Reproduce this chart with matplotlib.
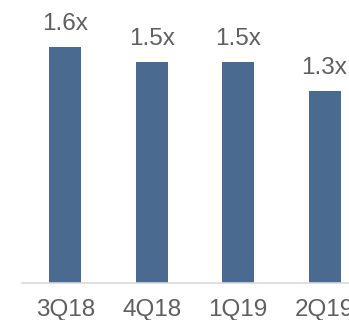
import matplotlib
matplotlib.use("Agg")
import matplotlib.pyplot as plt

quarters = ["3Q18", "4Q18", "1Q19", "2Q19"]
multiples = [1.6, 1.5, 1.5, 1.3]

plt.rcParams['font.family'] = ['Liberation Sans', 'DejaVu Sans']
text_color = "#5f5f5f"
bar_color = "#4A6A8F"

fig = plt.figure(figsize=(3.49, 3.20), dpi=100)
ax = fig.add_axes([22 / 349, (320 - 282.5) / 320, 1 - 22 / 349, 282.5 / 320])

x = list(range(len(quarters)))
bars = ax.bar(x, multiples, width=0.37, color=bar_color, zorder=2)

for xi, v in zip(x, multiples):
    ax.annotate(f"{v:.1f}x", (xi, v), xytext=(0, 12.0), textcoords="offset points",
                ha="center", va="baseline", fontsize=17.5, color=text_color)

ax.set_xlim(-0.5, 3.283)
ax.set_ylim(0, 282.5 / 147.3)
ax.set_xticks(x)
ax.set_xticklabels(quarters, fontsize=17.5, color=text_color)
ax.tick_params(axis="x", length=0, pad=12)
ax.set_yticks([])
for side in ["left", "right", "top"]:
    ax.spines[side].set_visible(False)
ax.spines["bottom"].set_color("#D9D9D9")
ax.spines["bottom"].set_linewidth(1.2)
ax.patch.set_alpha(0)

fig.savefig("out.png", dpi=100)
